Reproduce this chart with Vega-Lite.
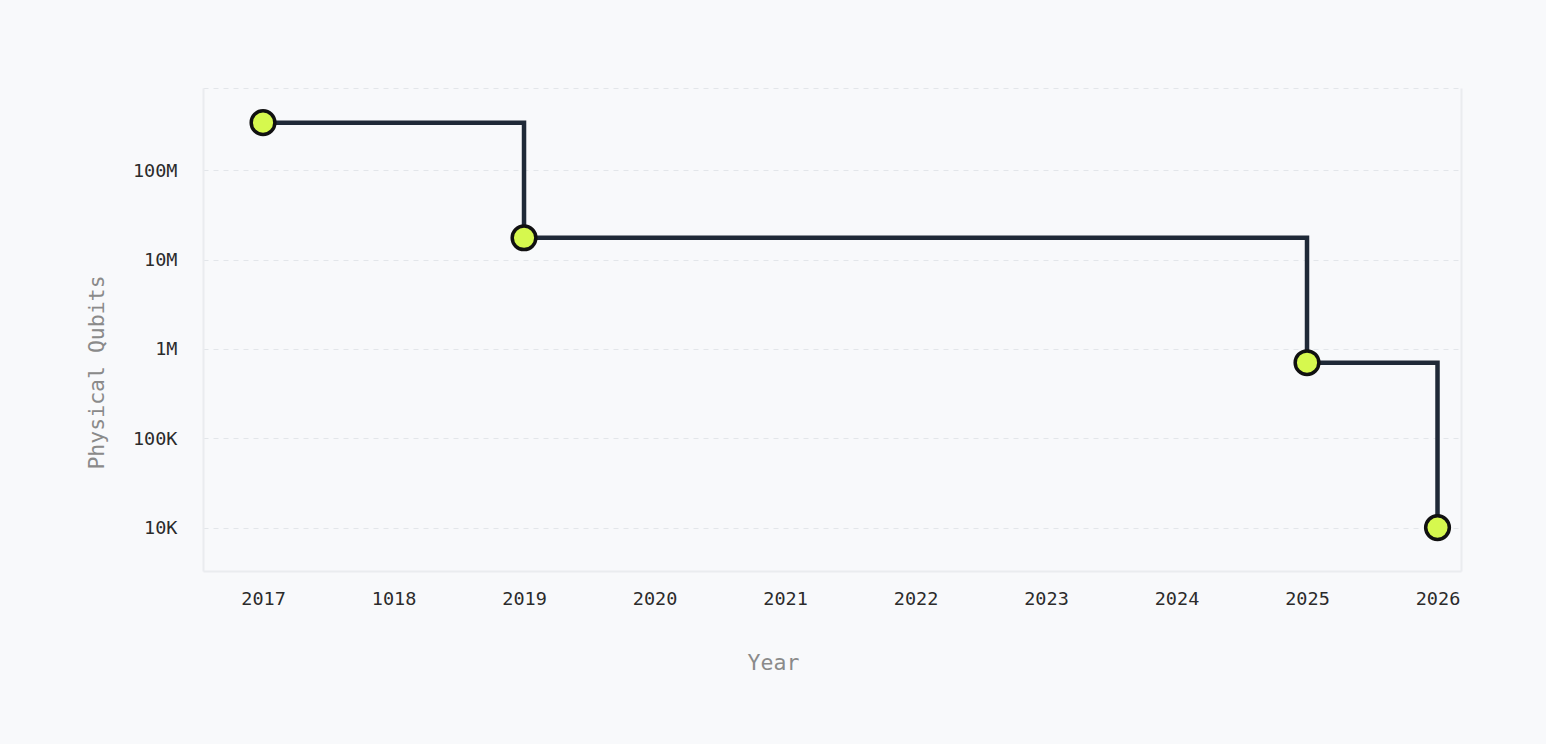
{
  "$schema": "https://vega.github.io/schema/vega-lite/v6.json",
  "width": 1258,
  "height": 483,
  "autosize": {"type": "none"},
  "padding": {"left": 203, "top": 88, "right": 85, "bottom": 173},
  "background": "#f8f9fb",
  "data": {
    "values": [
      {"year": 2017, "qubits": 340000000},
      {"year": 2019, "qubits": 17500000},
      {"year": 2025, "qubits": 700000},
      {"year": 2026, "qubits": 10000}
    ]
  },
  "layer": [
    {
      "mark": {"type": "line", "interpolate": "step-after", "color": "#1f2937", "strokeWidth": 4.5},
      "encoding": {
        "x": {
          "field": "year",
          "type": "quantitative",
          "scale": {"domain": [2016.54, 2026.18], "nice": false, "zero": false},
          "axis": {
            "title": "Year",
            "values": [2017, 2018, 2019, 2020, 2021, 2022, 2023, 2024, 2025, 2026],
            "labelExpr": "datum.value == 2018 ? '1018' : format(datum.value, 'd')",
            "grid": false,
            "ticks": false,
            "domainColor": "#eaecef",
            "domainWidth": 2,
            "labelPadding": 18,
            "titleX": 570,
            "titlePadding": 45
          }
        },
        "y": {
          "field": "qubits",
          "type": "quantitative",
          "scale": {"type": "log", "domain": [3270, 830000000], "nice": false},
          "axis": {
            "title": "Physical Qubits",
            "values": [10000, 100000, 1000000, 10000000, 100000000],
            "labelExpr": "replace(format(datum.value, '~s'), 'k', 'K')",
            "grid": true,
            "gridDash": [5, 5],
            "gridColor": "#e3e6ea",
            "ticks": false,
            "domainColor": "#eaecef",
            "domainWidth": 2,
            "labelPadding": 26,
            "titleX": -106,
            "titleY": 284,
            "titleBaseline": "middle"
          }
        }
      }
    },
    {
      "mark": {"type": "point", "filled": true, "fill": "#d6f84e", "stroke": "#111111", "strokeWidth": 3.5, "size": 560, "opacity": 1},
      "encoding": {
        "x": {
          "field": "year",
          "type": "quantitative",
          "scale": {"domain": [2016.54, 2026.18], "nice": false, "zero": false},
          "axis": {"orient": "top", "title": null, "labels": false, "ticks": false, "grid": false, "domainColor": "#e3e6ea", "domainDash": [5, 5], "domainWidth": 1}
        },
        "y": {
          "field": "qubits",
          "type": "quantitative",
          "scale": {"type": "log", "domain": [3270, 830000000], "nice": false},
          "axis": {"orient": "right", "title": null, "labels": false, "ticks": false, "grid": false, "domainColor": "#eaecef", "domainWidth": 2}
        }
      }
    }
  ],
  "resolve": {"axis": {"x": "independent", "y": "independent"}},
  "config": {
    "view": {"stroke": null},
    "axis": {
      "labelFont": "DejaVu Sans Mono",
      "labelFontSize": 18.5,
      "labelColor": "#2b2b2b",
      "titleFont": "DejaVu Sans Mono",
      "titleFontSize": 21.5,
      "titleFontWeight": "normal",
      "titleColor": "#8a8a8a"
    }
  }
}
